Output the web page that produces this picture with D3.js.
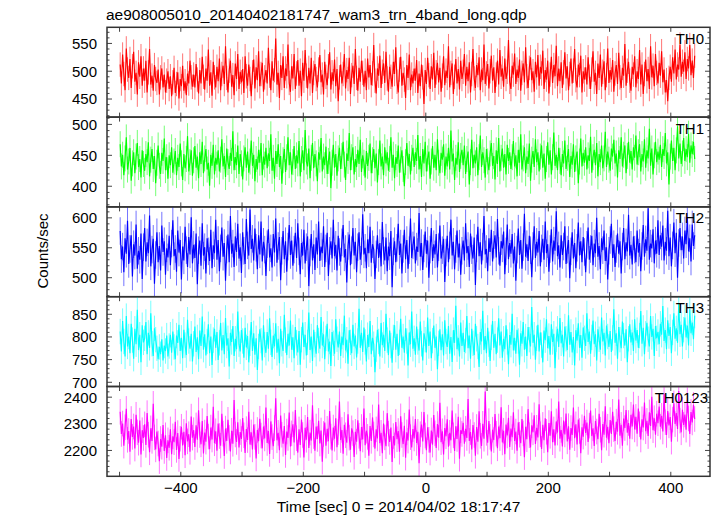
<!DOCTYPE html>
<html><head><meta charset="utf-8">
<script src="https://cdn.jsdelivr.net/npm/d3@7"></script>
<style>body{margin:0;background:#fff} text{font-family:"Liberation Sans",Arial,Helvetica,sans-serif;fill:#000}</style>
</head><body><svg id="c" width="717" height="516"></svg>
<script>
const title = "ae908005010_20140402181747_wam3_trn_4band_long.qdp";
const xLabel = "Time [sec] 0 = 2014/04/02 18:17:47";
const yLabel = "Counts/sec";
const tStart = -499, binSize = 2;
const panelNames = ["TH0","TH1","TH2","TH3","TH0123"];
const colors = ["#ff0000","#00ff00","#0000ff","#00ffff","#ff00ff"];
const yDomains = [[417.5,579],[366.6,511.8],[468.3,618.3],[690.7,888.8],[2103,2440]];
const yMajor = [[450,500,550],[400,450,500],[500,550,600],[700,750,800,850],[2200,2300,2400]];
const yMinorStep = [10,10,10,10,20];
const errors = [22,21,23,28,48];
const xDomain = [-520.5,464];
const xTicks = [-400,-200,0,200,400];
const xMinor = [-500,-300,-100,100,300];

const th0 = [
512,478,530,495,466,541,503,488,522,470,509,535,481,497,458,516,490,527,474,505,
483,519,462,498,540,476,492,465,511,486,479,503,458,489,505,471,494,462,483,500,
468,491,455,480,506,461,477,498,451,486,473,510,465,482,457,496,478,519,489,472,
494,471,513,485,460,502,478,526,490,467,505,483,539,474,498,456,517,489,471,508,
482,523,466,495,510,477,545,488,462,501,519,472,493,457,514,486,531,468,499,480,
504,461,527,491,474,512,486,455,498,521,469,507,484,536,473,495,515,463,489,502,
478,542,492,466,518,483,502,559,476,497,452,511,488,527,470,505,491,548,479,463,
509,487,531,468,496,520,474,501,455,515,483,538,492,469,506,478,524,461,497,513,
486,471,503,529,480,494,458,517,490,475,509,534,467,498,482,521,473,504,446,489,
512,478,495,531,469,502,486,524,459,493,510,477,540,488,465,506,481,519,497,472,
501,466,523,489,511,475,496,547,483,460,505,492,528,470,499,514,479,535,487,463,
508,490,472,517,495,543,481,462,503,526,474,497,485,452,511,488,530,466,494,478,
505,483,520,461,496,473,512,489,441,502,477,524,493,468,509,485,533,470,498,515,
480,506,463,492,527,475,501,488,545,471,497,514,459,490,522,478,504,467,519,486,
499,531,474,508,482,516,462,495,540,487,470,511,493,525,466,503,484,548,477,496,
513,469,500,528,483,507,461,494,519,476,538,490,505,472,523,486,499,556,481,468,
510,494,532,477,503,488,521,465,497,514,480,543,491,470,506,525,484,500,463,517,
489,529,474,508,496,537,468,502,485,519,460,494,526,479,511,491,546,473,505,482,
516,470,498,534,487,509,466,495,523,478,501,540,484,471,512,493,528,462,500,485,
507,476,525,490,468,503,536,481,497,459,514,488,530,472,499,518,466,493,541,479,
502,485,520,463,496,511,477,533,489,470,506,492,549,474,501,517,483,465,508,494,
527,471,500,486,538,476,512,459,495,521,482,504,468,545,489,510,473,531,497,478,
515,492,536,480,503,462,484,446,488,508,481,525,496,539,485,512,503,548,490,517,
499,534,486,522,505,547,493,519,488,528];
const th1 = [
468,432,451,418,445,479,427,440,462,409,437,455,421,448,470,431,444,414,458,436,
425,452,439,471,416,443,460,428,449,405,438,466,433,420,454,441,477,426,447,412,
450,434,463,422,440,457,418,446,431,469,437,410,452,429,444,481,424,439,458,417,
442,465,430,448,413,455,436,472,421,445,460,427,438,401,451,433,467,419,446,435,
458,424,443,476,432,449,415,461,439,428,454,441,489,426,447,434,466,420,452,437,
411,445,463,430,456,422,440,474,433,451,408,444,427,459,438,470,418,448,435,462,
429,453,441,484,425,446,412,457,436,468,431,449,404,442,460,423,447,479,434,455,
419,439,465,428,450,437,473,416,444,458,426,491,440,432,461,413,446,470,429,452,
437,408,455,443,478,424,448,434,464,420,441,456,397,438,467,430,452,417,445,462,
428,449,472,435,410,453,441,486,426,447,463,419,444,431,459,436,475,423,450,438,
414,457,433,446,469,421,442,460,429,453,406,439,474,432,448,418,463,437,455,425,
444,479,430,451,413,447,436,466,422,443,458,428,400,439,470,433,452,419,446,462,
431,455,441,483,427,449,415,460,437,472,424,445,456,412,440,465,430,451,426,476,
438,421,454,443,468,417,448,432,462,427,490,440,453,410,446,435,471,423,449,459,
434,466,420,444,456,403,439,475,429,451,437,463,418,447,482,431,455,442,414,460,
440,426,453,470,433,449,411,458,436,478,424,446,461,430,452,419,467,441,455,428,
447,473,432,450,416,459,438,484,427,445,463,421,448,436,469,409,443,457,431,476,
439,455,424,448,466,430,453,412,444,471,435,458,419,447,487,433,451,426,462,441,
418,452,437,474,428,446,460,415,449,435,468,423,445,456,405,440,477,432,454,438,
463,427,450,441,480,422,447,459,434,470,416,452,439,466,429,445,488,431,456,443,
425,461,448,475,437,453,414,458,444,479,432,451,466,421,449,472,438,457,427,463,
446,482,435,455,468,424,452,440,476,430,458,445,493,433,461,419,450,472,439,456,
443,467,431,460,449,486,437,455,403,448,474,441,462,426,458,497,445,469,436,453,
478,441,460,447,485,438,466,452,472,444];
const th2 = [
578,531,552,509,566,540,595,523,548,571,502,556,537,589,515,545,530,574,498,551,
583,527,559,541,604,519,547,565,490,538,576,526,553,512,587,543,561,505,549,534,
570,521,557,596,536,548,510,579,542,563,497,552,529,585,546,518,568,539,601,524,
555,533,574,489,546,562,520,591,537,551,507,566,544,528,580,516,554,541,597,530,
563,511,549,584,535,558,495,547,572,526,603,540,557,518,569,543,590,532,551,508,
576,545,523,598,554,537,614,548,565,529,582,550,514,571,539,594,527,560,547,503,
556,581,534,549,517,573,542,599,525,553,568,496,545,578,531,561,510,552,588,538,
562,520,547,575,533,591,544,506,558,537,580,524,551,569,486,542,573,529,556,513,
567,539,594,528,552,541,586,518,549,575,503,545,561,532,597,536,555,512,570,543,
527,559,588,534,548,492,553,572,521,546,583,537,560,509,551,576,530,544,606,539,
550,516,564,541,585,525,556,547,498,539,571,533,558,519,593,545,529,567,511,552,
536,578,484,544,561,526,550,590,538,557,507,548,580,531,563,515,546,599,533,554,
569,524,552,543,608,535,558,513,549,577,540,562,500,547,583,528,556,539,573,517,
551,587,532,546,565,493,542,570,526,554,597,537,560,514,548,579,534,557,505,545,
562,529,591,541,553,518,574,546,532,567,488,549,585,536,559,522,552,603,539,548,
511,566,543,580,527,555,571,534,598,545,520,561,549,577,506,544,589,531,558,540,
573,524,552,495,547,582,538,563,515,551,607,535,556,528,570,546,501,553,586,533,
560,542,578,519,549,565,530,594,541,556,510,548,581,527,562,545,611,536,554,517,
571,538,552,586,523,547,563,499,544,576,532,558,516,550,592,537,561,526,568,543,
509,555,584,530,548,570,521,557,541,600,535,553,514,566,546,579,528,551,497,545,
563,590,533,556,518,548,574,540,561,507,552,583,531,559,544,605,537,555,522,569,
547,526,579,542,558,511,553,588,535,564,545,616,530,557,549,581,524,562,540,596,
538,571,552,587,529,560,545,612,536,567,519,554,592,541,575,500,558,583,546,569,
532,579,556,601,544,566,527,589,553,571];
const th3 = [
812,768,835,790,757,846,779,801,764,829,793,752,818,784,860,771,805,744,826,788,
797,833,762,809,776,852,785,758,819,794,775,751,778,762,795,748,781,769,803,757,
780,805,765,812,778,751,803,787,827,769,798,753,816,782,760,838,791,774,807,746,
785,823,767,799,751,814,780,845,772,806,759,790,828,764,801,738,793,818,776,811,
749,787,831,770,804,762,842,781,797,735,809,789,824,758,796,773,856,784,768,815,
791,754,820,777,802,744,786,833,769,808,761,797,727,779,817,792,748,826,783,765,
811,774,841,788,756,803,779,830,765,796,742,818,785,769,849,793,760,807,781,836,
772,799,753,822,787,766,813,739,794,832,778,805,759,788,854,771,801,747,816,783,
763,826,792,774,844,781,806,751,797,829,768,790,736,811,786,763,839,795,777,812,
758,801,782,847,770,794,741,815,788,764,827,779,803,755,791,862,776,809,767,821,
789,746,804,778,835,762,798,784,722,773,816,790,757,831,782,805,769,851,793,760,
814,781,743,799,826,772,807,758,788,840,776,801,765,819,791,737,810,784,856,774,
797,761,823,789,770,834,785,748,808,794,766,843,780,812,753,792,825,776,801,729,
786,817,771,806,759,837,790,778,824,763,800,745,815,787,869,773,798,757,832,780,
809,767,792,846,775,803,752,818,786,760,829,796,779,734,811,790,858,771,802,764,
820,784,747,799,835,776,807,762,793,841,781,812,754,796,773,826,789,740,804,783,
851,770,798,763,816,791,739,808,785,833,772,801,758,822,794,779,866,787,805,750,
797,827,768,810,782,744,814,793,839,775,802,761,828,789,807,731,795,818,778,842,
786,805,757,823,796,771,848,783,811,766,800,737,815,792,830,776,804,754,821,797,
780,852,789,812,763,799,836,784,806,748,817,795,772,843,790,809,759,825,801,778,
813,767,798,861,787,808,752,822,794,775,834,803,781,817,744,796,828,788,810,769,
839,792,815,776,803,857,785,820,762,807,831,795,779,846,800,818,758,824,797,811,
784,829,805,868,791,815,773,837,802,822,764,810,852,796,819,787,874,806,827,779,
816,843,799,825,781,861,808,832,795,847];
const th0123 = [
2345,2262,2301,2218,2287,2356,2240,2273,2195,2318,2251,2290,2207,2334,2268,2229,2312,2185,2276,2247,
2298,2221,2340,2259,2193,2283,2236,2375,2249,2204,2271,2226,2160,2243,2214,2295,2198,2257,2172,2238,
2210,2279,2186,2253,2231,2308,2202,2265,2168,2244,2289,2219,2270,2182,2302,2234,2261,2195,2327,2248,
2276,2213,2294,2240,2351,2258,2223,2310,2189,2267,2233,2329,2252,2205,2286,2241,2364,2227,2272,2199,
2301,2254,2218,2338,2263,2179,2282,2236,2315,2247,2196,2274,2225,2389,2260,2232,2306,2211,2269,2243,
2322,2257,2191,2280,2239,2345,2222,2268,2204,2297,2251,2170,2277,2235,2319,2256,2208,2290,2245,2361,
2228,2273,2187,2309,2250,2216,2284,2396,2238,2266,2201,2331,2259,2225,2292,2183,2271,2247,2342,2215,
2264,2298,2230,2352,2246,2192,2279,2221,2316,2258,2174,2285,2240,2325,2209,2267,2237,2370,2254,2199,
2290,2243,2311,2226,2275,2158,2262,2305,2218,2281,2235,2348,2252,2200,2286,2244,2321,2212,2269,2384,
2239,2277,2188,2296,2257,2229,2336,2248,2203,2283,2265,2176,2270,2233,2313,2255,2197,2288,2241,2357,
2220,2274,2251,2180,2292,2236,2324,2260,2207,2279,2245,2372,2227,2266,2190,2301,2249,2216,2340,2263,
2232,2286,2157,2254,2219,2307,2242,2273,2195,2328,2258,2224,2293,2173,2268,2237,2354,2250,2211,2280,
2245,2318,2228,2270,2152,2261,2297,2234,2344,2256,2201,2287,2240,2192,2275,2222,2333,2264,2209,2299,
2248,2379,2231,2272,2185,2284,2253,2317,2214,2266,2238,2350,2257,2198,2291,2243,2326,2169,2276,2262,
2304,2225,2281,2247,2393,2236,2269,2204,2295,2258,2180,2288,2233,2347,2255,2217,2300,2244,2421,2266,
2229,2310,2251,2196,2278,2239,2337,2263,2208,2290,2246,2362,2230,2274,2186,2297,2256,2323,2213,2282,
2250,2343,2236,2271,2199,2306,2259,2227,2318,2264,2175,2289,2242,2355,2257,2211,2294,2268,2332,2224,
2285,2249,2373,2261,2206,2296,2238,2321,2270,2193,2303,2255,2347,2231,2279,2219,2309,2267,2384,2244,
2277,2215,2312,2260,2339,2234,2291,2203,2284,2258,2361,2246,2298,2222,2316,2273,2190,2287,2252,2330,
2266,2305,2232,2293,2350,2254,2283,2217,2310,2271,2242,2338,2278,2201,2299,2259,2366,2248,2289,2227,
2314,2262,2345,2280,2236,2308,2270,2391,2255,2296,2218,2320,2284,2352,2267,2303,2244,2334,2290,2372,
2279,2326,2263,2357,2298,2241,2317,2286,2380,2272,2311,2254,2343,2292,2401,2276,2321,2259,2338,2302,
2365,2289,2330,2271,2412,2306,2258,2348,2294,2325,2233,2316,2377,2299,2340,2281,2423,2312,2268,2353,
2296,2335,2278,2389,2320,2262,2344,2305,2371,2318];
const seriesList = [th0, th1, th2, th3, th0123];

// ---- layout ----
const L = 107, R = 710, T = 27.3, PH = 89.8;
const svg = d3.select("#c");
const x = d3.scaleLinear().domain(xDomain).range([L, R]);
const FRAME = "#333", TICK = "#444";

svg.append("text").attr("x", 106).attr("y", 20).attr("font-size", 15.5).text(title);

seriesList.forEach((vals, p) => {
  const top = T + p * PH, bot = top + PH;
  const y = d3.scaleLinear().domain(yDomains[p]).range([bot, top]);
  const g = svg.append("g");
  const clipId = "clip" + p;
  svg.append("clipPath").attr("id", clipId).append("rect")
    .attr("x", L).attr("y", top).attr("width", R - L).attr("height", PH);
  const data = vals.map((v, i) => ({t: tStart + i * binSize, v}));
  const dg = g.append("g").attr("clip-path", `url(#${clipId})`);
  // error bars
  const err = errors[p];
  const ep = d3.path();
  data.forEach(d => { ep.moveTo(x(d.t), y(d.v - err)); ep.lineTo(x(d.t), y(d.v + err)); });
  dg.append("path").attr("d", ep.toString()).attr("stroke", colors[p])
    .attr("stroke-opacity", 0.55).attr("stroke-width", 1).attr("fill", "none");
  dg.append("path").datum(data)
    .attr("d", d3.line().x(d => x(d.t)).y(d => y(d.v)))
    .attr("stroke", colors[p]).attr("stroke-width", 1.15).attr("fill", "none");

  // y ticks (left & right)
  const [y0, y1] = yDomains[p];
  const minors = d3.range(Math.ceil(y0 / yMinorStep[p]) * yMinorStep[p], y1, yMinorStep[p]);
  const tg = g.append("g").attr("stroke", TICK).attr("stroke-width", 1);
  minors.forEach(v => {
    const isMaj = yMajor[p].includes(v);
    const len = isMaj ? 5 : 2.5;
    tg.append("line").attr("x1", L).attr("x2", L + len).attr("y1", y(v)).attr("y2", y(v));
    tg.append("line").attr("x1", R).attr("x2", R - len).attr("y1", y(v)).attr("y2", y(v));
  });
  yMajor[p].forEach(v => {
    g.append("text").attr("x", 97).attr("y", y(v)).attr("dy", "0.36em")
      .attr("text-anchor", "end").attr("font-size", 15).text(v);
  });
  // x ticks top & bottom
  xTicks.concat(xMinor).forEach(t => {
    tg.append("line").attr("x1", x(t)).attr("x2", x(t)).attr("y1", top).attr("y2", top + 4.5);
    tg.append("line").attr("x1", x(t)).attr("x2", x(t)).attr("y1", bot).attr("y2", bot - 4.5);
  });
  // frame
  g.append("rect").attr("x", L).attr("y", top).attr("width", R - L).attr("height", PH)
    .attr("fill", "none").attr("stroke", FRAME).attr("stroke-width", 1.5);
  // panel label
  g.append("text").attr("x", p === 4 ? 708 : 704).attr("y", top + 16.5).attr("text-anchor", "end")
    .attr("font-size", 15).text(panelNames[p]);
});

const bottom = T + 5 * PH;
const fmt = d3.format("");
xTicks.forEach(t => {
  svg.append("text").attr("x", x(t)).attr("y", bottom + 17).attr("text-anchor", "middle")
    .attr("font-size", 15).text(fmt(t));
});
svg.append("text").attr("x", 398.5).attr("y", 511.5).attr("text-anchor", "middle")
  .attr("font-size", 15.5).text(xLabel);
svg.append("text").attr("transform", "translate(48,251) rotate(-90)")
  .attr("text-anchor", "middle").attr("font-size", 15).text(yLabel);
</script></body></html>
